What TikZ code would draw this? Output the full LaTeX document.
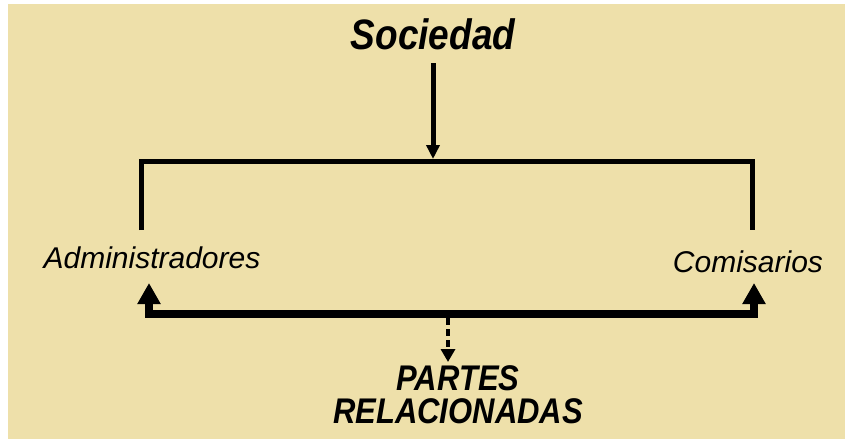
\documentclass[tikz,border=0pt]{standalone}
\usepackage{fontspec}
\setmainfont{Liberation Sans}
\usetikzlibrary{arrows.meta,positioning}
\definecolor{fondo}{RGB}{238,224,170}

\begin{document}
\begin{tikzpicture}[x=1pt,y=-1pt,line join=miter,
                    >={Triangle[width=13pt,length=14pt]}]
	\tikzstyle{titulo}=[font=\fontsize{37}{40}\selectfont\bfseries\itshape,inner sep=0pt]
	\tikzstyle{parte}=[font=\fontsize{30}{34}\selectfont\itshape,inner sep=0pt]
	\tikzstyle{grupo}=[font=\fontsize{31}{33}\selectfont\bfseries\itshape,align=center,inner sep=0pt]
	\tikzstyle{rama}=[line width=5pt]
	\tikzstyle{enlace}=[line width=8pt,{Triangle[width=22pt,length=21pt]}-{Triangle[width=22pt,length=21pt]}]

	\useasboundingbox (0,0) rectangle (845,439);
	\fill[fondo] (8,4) rectangle (845,439);

	\node[titulo]	(soc)	at (433,34)	{\scalebox{1}[1.15]{Sociedad}};
	\node[parte]	(adm)	at (152,258)	{Administradores};
	\node[parte]	(com)	at (748,262)	{Comisarios};
	\node[grupo]	(pr)	at (458,395)	{\scalebox{1}[1.15]{PARTES}\\\scalebox{1}[1.15]{RELACIONADAS}};

	% puntos de la llave superior
	\coordinate (sal) at (433,63);
	\coordinate (bar) at (433,159);
	\coordinate (bl) at (141,161);
	\coordinate (br) at (752,161);
	\coordinate (al) at (141,230);
	\coordinate (cl) at (752,230);
	% puntos del enlace inferior
	\coordinate (ta) at (149,283);
	\coordinate (ea) at (149,314);
	\coordinate (eb) at (754,314);
	\coordinate (tb) at (754,283);
	\coordinate (ds) at (448,318);
	\coordinate (dl) at (448,362);

	\draw[rama,->] (sal) -- (bar);
	\draw[rama] (al) -- (bl) -- (br) -- (cl);
	\draw[enlace] (ta) -- (ea) -- (eb) -- (tb);
	\draw[line width=4pt,dash pattern=on 7pt off 4pt,-{Triangle[width=14pt,length=13pt]}] (ds) -- (dl);
\end{tikzpicture}
\end{document}
